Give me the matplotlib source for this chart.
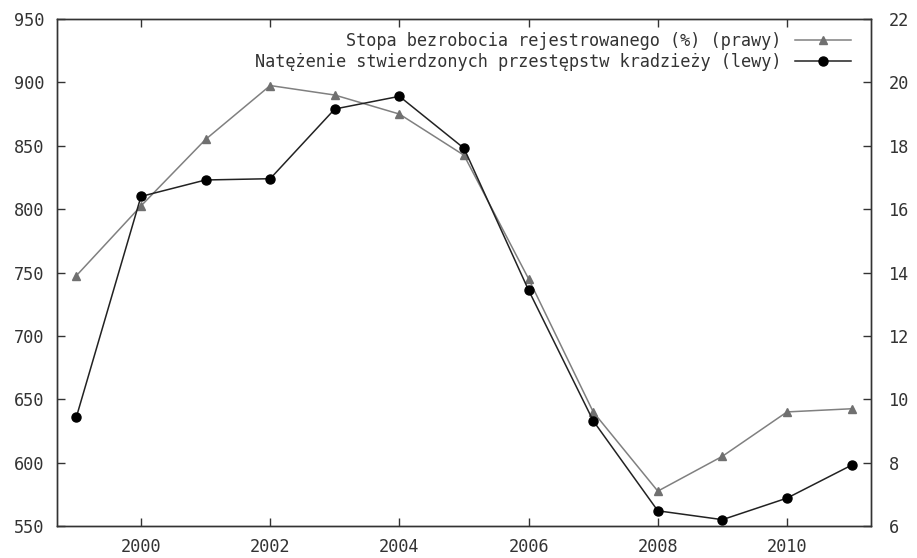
import matplotlib
matplotlib.use("Agg")
import matplotlib.pyplot as plt
from matplotlib.lines import Line2D

years = [1999, 2000, 2001, 2002, 2003, 2004, 2005, 2006, 2007, 2008, 2009, 2010, 2011]
theft_rate = [636, 810, 823, 824, 879, 889, 848, 736, 633, 562, 555, 572, 598]
unemployment = [13.9, 16.1, 18.2, 19.9, 19.6, 19.0, 17.7, 13.8, 9.6, 7.1, 8.2, 9.6, 9.7]
x_ticks = [2000, 2002, 2004, 2006, 2008, 2010]
left_ticks = [550, 600, 650, 700, 750, 800, 850, 900, 950]
right_ticks = [6, 8, 10, 12, 14, 16, 18, 20, 22]

label_unemp = "Stopa bezrobocia rejestrowanego (%) (prawy)"
label_theft = "Natężenie stwierdzonych przestępstw kradzieży (lewy)"

plt.rcParams['font.family'] = ['DejaVu Sans Mono', 'DejaVu Sans']
fig = plt.figure(figsize=(9.17, 5.58), dpi=100)
ax = fig.add_axes([57/917, 1 - 526/558, (871-57)/917, (526-19)/558])
ax2 = ax.twinx()

spine_c = '#333333'
for a in (ax, ax2):
    for s in a.spines.values():
        s.set_color(spine_c)
        s.set_linewidth(1.0)

ax.set_xlim(1998.7, 2011.3)
ax.set_ylim(550, 950)
ax2.set_ylim(6, 22)

ax.set_xticks(x_ticks)
ax.set_yticks(left_ticks)
ax2.set_yticks(right_ticks)

fs = 12.2
txt_c = '#333333'
ax.tick_params(axis='x', direction='in', top=True, length=6, width=1, color=spine_c,
               labelsize=fs, labelcolor=txt_c, pad=9)
ax.tick_params(axis='y', direction='in', length=6, width=1, color=spine_c,
               labelsize=fs, labelcolor=txt_c, pad=9)
ax2.tick_params(axis='y', direction='in', length=6, width=1, color=spine_c,
                labelsize=fs, labelcolor=txt_c, pad=13)

ax2.plot(years, unemployment, color='#808080', lw=1.1, marker='^', ms=6,
         markerfacecolor='#707070', markeredgecolor='#707070', zorder=2)
ax.plot(years, theft_rate, color='#222222', lw=1.1, marker='o', ms=6.5,
        markerfacecolor='#000000', markeredgecolor='#000000', zorder=3)
ax.set_zorder(ax2.get_zorder() + 1)
ax.patch.set_visible(False)

handles = [
    Line2D([], [], color='#808080', lw=1.1, marker='^', ms=6,
           markerfacecolor='#707070', markeredgecolor='#707070'),
    Line2D([], [], color='#222222', lw=1.1, marker='o', ms=6.5,
           markerfacecolor='#000000', markeredgecolor='#000000'),
]
leg = ax.legend(handles, [label_unemp, label_theft], loc='upper right',
                bbox_to_anchor=(0.9914, 1.0), frameon=False, markerfirst=False,
                fontsize=fs, handlelength=3.35, handletextpad=0.75,
                labelspacing=0.2, borderaxespad=0.55, borderpad=0.2)
for t in leg.get_texts():
    t.set_color(txt_c)

fig.savefig("out.png", dpi=100)
